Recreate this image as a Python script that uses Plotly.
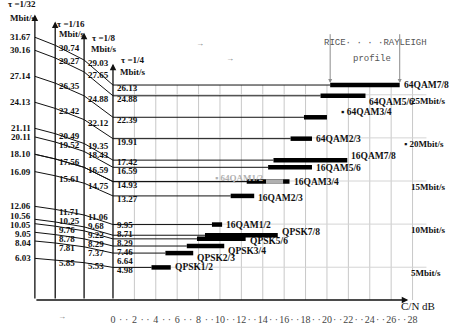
import plotly.graph_objects as go

# ---------------- data ----------------
modes = ["QPSK1/2", "QPSK2/3", "QPSK3/4", "QPSK5/6", "QPSK7/8",
         "16QAM1/2", "16QAM2/3", "16QAM3/4", "16QAM5/6", "16QAM7/8",
         "64QAM1/2", "64QAM2/3", "64QAM3/4", "64QAM5/6", "64QAM7/8"]
rate_1_32 = [6.03, 8.04, 9.05, 10.05, 10.56, 12.06, 16.09, 18.10, 20.11, 21.11,
             18.10, 24.13, 27.14, 30.16, 31.67]
rate_1_16 = [5.85, 7.81, 8.78, 9.76, 10.25, 11.71, 15.61, 17.56, 19.52, 20.49,
             17.56, 23.42, 26.35, 29.27, 30.74]
rate_1_8 = [5.53, 7.37, 8.29, 9.22, 9.68, 11.06, 14.75, 16.59, 18.43, 19.35,
            16.59, 22.12, 24.88, 27.65, 29.03]
rate_1_4 = [4.98, 6.64, 7.46, 8.29, 8.71, 9.95, 13.27, 14.93, 16.59, 17.42,
            14.93, 19.91, 22.39, 24.88, 26.13]
cn_rice = [3.6, 4.9, 6.9, 7.85, 8.6, 9.25, 11.0, 12.5, 14.5, 15.0,
           14.3, 16.6, 17.85, 19.4, 20.3]
cn_rayleigh = [5.4, 7.5, 10.4, 12.4, 15.4, 10.2, 13.2, 16.5, 18.6, 21.9,
               15.9, 18.6, 20.0, 23.6, 26.8]
guard_labels = ["τ =1/32", "τ =1/16", "τ =1/8", "τ =1/4"]
cn_ticks = list(range(0, 29))
right_rates = [5, 10, 15, 20, 25]
right_labels = ["5Mbit/s", "10Mbit/s", "15Mbit/s", "▪ 20Mbit/s", "25Mbit/s"]

# ---------------- layout constants ----------------
W, H = 450, 327
M_T, M_B = 12, 27
Y_RANGE = [1.2, 34.6]
X_RANGE = [-10.56, 31.5]
PX_PER_Y = (H - M_T - M_B) / (Y_RANGE[1] - Y_RANGE[0])
Y0 = Y_RANGE[0]
TAU_X = [-7.3, -5.4, -2.7, 0.0]          # horizontal position of guard-interval axes
TAU_TOP = [34.3, 33.5, 32.2, 28.6]       # top of each guard-interval axis
SERIF = "Liberation Serif"
BLACK = "#111111"


def spread(values, gap):
    """pixel shifts that keep stacked labels at least `gap` px apart"""
    vals = sorted(set(values))
    pos = [(v - Y0) * PX_PER_Y for v in vals]
    for _ in range(200):
        moved = False
        for i in range(len(pos) - 1):
            d = pos[i + 1] - pos[i]
            if d < gap:
                push = (gap - d) / 2 + 0.01
                pos[i] -= push
                pos[i + 1] += push
                moved = True
        if not moved:
            break
    return {v: p - (v - Y0) * PX_PER_Y for v, p in zip(vals, pos)}


fig = go.Figure()

# vertical grid (every 2 dB)
top_line = max(rate_1_4)
for d in range(2, 30, 2):
    fig.add_shape(type="line", x0=d, x1=d, y0=Y0, y1=top_line,
                  line=dict(color="#c8c8c8", width=1), layer="below")
# light horizontal rate grid
for r in right_rates:
    fig.add_shape(type="line", x0=0, x1=29.3, y0=r, y1=r,
                  line=dict(color="#d4d4d4", width=1), layer="below")

# polylines from the guard-interval axes to the start of each bar
for i, m in enumerate(modes):
    fig.add_trace(go.Scatter(
        x=TAU_X + [cn_rice[i]],
        y=[rate_1_32[i], rate_1_16[i], rate_1_8[i], rate_1_4[i], rate_1_4[i]],
        mode="lines", line=dict(color=BLACK, width=1),
        hoverinfo="skip", showlegend=False))

# thick bars Rice -> Rayleigh
bar_color = ["#000000"] * len(modes)
bar_color[modes.index("64QAM1/2")] = "#b0b0b0"
order = [i for i in range(len(modes)) if modes[i] != "64QAM1/2"] + [modes.index("64QAM1/2")]
for i in order:
    fig.add_trace(go.Scatter(
        x=[cn_rice[i], cn_rayleigh[i]], y=[rate_1_4[i], rate_1_4[i]],
        mode="lines", line=dict(color=bar_color[i], width=4.5),
        name=modes[i], hoverinfo="name", showlegend=False))

ann = []
fm = dict(family=SERIF, size=9.5, color=BLACK, weight="bold")
fs = dict(family=SERIF, size=9, color=BLACK, weight="bold")

# mode labels next to the bars
label_dy = {"QPSK7/8": 3, "QPSK5/6": -2, "QPSK3/4": -5, "QPSK2/3": -5, "16QAM2/3": -2,
            "16QAM7/8": 4, "16QAM5/6": -1, "64QAM3/4": 5, "64QAM5/6": -6}
for i, m in enumerate(modes):
    if m == "64QAM1/2":
        ann.append(dict(x=cn_rice[i], y=rate_1_4[i], text="▪ " + m, showarrow=False,
                        xanchor="right", yanchor="middle", xshift=-1, yshift=4,
                        font=dict(family=SERIF, size=9, color="#b0b0b0", weight="bold")))
        continue
    txt = ("▪ " + m) if m == "64QAM3/4" else m
    ann.append(dict(x=cn_rayleigh[i], y=rate_1_4[i], text=txt, showarrow=False,
                    xanchor="left", yanchor="middle",
                    xshift=12 if m == "64QAM3/4" else 2,
                    yshift=label_dy.get(m, 0), font=fm))

# value labels on each guard-interval axis
cols = [rate_1_32, rate_1_16, rate_1_8, rate_1_4]
for k, col in enumerate(cols):
    shifts = spread(col, 9.0)
    for v in dict.fromkeys(col):
        if k == 0:
            ann.append(dict(x=TAU_X[k], y=v, text=f"{v:.2f}", showarrow=False,
                            xanchor="right", yanchor="middle", xshift=-2,
                            yshift=shifts[v], font=fs))
        else:
            ann.append(dict(x=TAU_X[k], y=v, text=f"{v:.2f}", showarrow=False,
                            xanchor="left", yanchor="middle", xshift=2,
                            yshift=shifts[v] - 3, font=fs))

# guard-interval axes with arrows
for k in range(4):
    ann.append(dict(x=TAU_X[k], y=TAU_TOP[k], ax=TAU_X[k], ay=Y0, axref="x", ayref="y",
                    text="", showarrow=True, arrowhead=2, arrowsize=1, arrowwidth=1.3,
                    arrowcolor=BLACK))
# guard-interval titles (first one sits above the plotting range -> pixel shift)
title_pos = [(-8.5, 34.6, 8, 33.9), (-3.9, 33.25, 0, 32.05),
             (-0.85, 31.6, 0, 30.35), (1.85, 29.05, 0, 27.7)]
for k, (tx, ty1, dy1, ty2) in enumerate(title_pos):
    ann.append(dict(x=tx, y=ty1, yshift=dy1, text=guard_labels[k], showarrow=False, font=fs))
    ann.append(dict(x=tx, y=ty2, text="Mbit/s", showarrow=False, font=fs))

# C/N axis arrow
ann.append(dict(x=27.6, y=Y0, ax=TAU_X[0], ay=Y0, axref="x", ayref="y", text="",
                showarrow=True, arrowhead=2, arrowsize=1, arrowwidth=1.3, arrowcolor=BLACK))
ann.append(dict(x=28.5, y=Y0, yshift=-6, xanchor="center", text="C/N dB", showarrow=False,
                font=dict(family=SERIF, size=11, color=BLACK)))

# right rate labels
for r, t in zip(right_rates, right_labels):
    ann.append(dict(x=27.7 if not t.startswith("▪") else 27.0, y=r, text=t,
                    showarrow=False, xanchor="left",
                    yanchor="middle", yshift=-6, font=fs))

# Rice / Rayleigh profile markers
i78 = modes.index("64QAM7/8")
for xv in (cn_rice[i78], cn_rayleigh[i78]):
    ann.append(dict(x=xv, y=rate_1_4[i78], ax=xv, ay=32.2, axref="x", ayref="y", text="",
                    showarrow=True, arrowhead=2, arrowsize=0.8, arrowwidth=1,
                    arrowcolor="#8c8c8c", standoff=2))
ann.append(dict(x=24.5, y=31.0, text="RICE· · · ·RAYLEIGH", showarrow=False,
                font=dict(family="Liberation Mono", size=9, color="#555555")))
ann.append(dict(x=24.2, y=29.2, text="profile", showarrow=False,
                font=dict(family="Liberation Mono", size=9, color="#555555")))

# stray tab marks
for (sx, sy, dy) in [(8.1, 31.0, 0), (10.9, 29.2, 0), (-4.8, Y0, -16)]:
    ann.append(dict(x=sx, y=sy, yshift=dy, text="→", showarrow=False,
                    font=dict(family=SERIF, size=8, color="#777777")))

tick_text = [str(t) if t % 2 == 0 else "· ·" for t in cn_ticks]

fig.update_layout(
    width=W, height=H,
    margin=dict(l=0, r=0, t=M_T, b=M_B),
    paper_bgcolor="white", plot_bgcolor="white",
    annotations=ann,
    xaxis=dict(range=X_RANGE, tickvals=cn_ticks, ticktext=tick_text, tickangle=0,
               showgrid=False, zeroline=False, showline=False,
               ticks="outside", ticklen=10, tickcolor="rgba(0,0,0,0)",
               tickfont=dict(family=SERIF, size=10, color="#444444")),
    yaxis=dict(range=Y_RANGE, visible=False),
)

fig.write_html("out.html")
